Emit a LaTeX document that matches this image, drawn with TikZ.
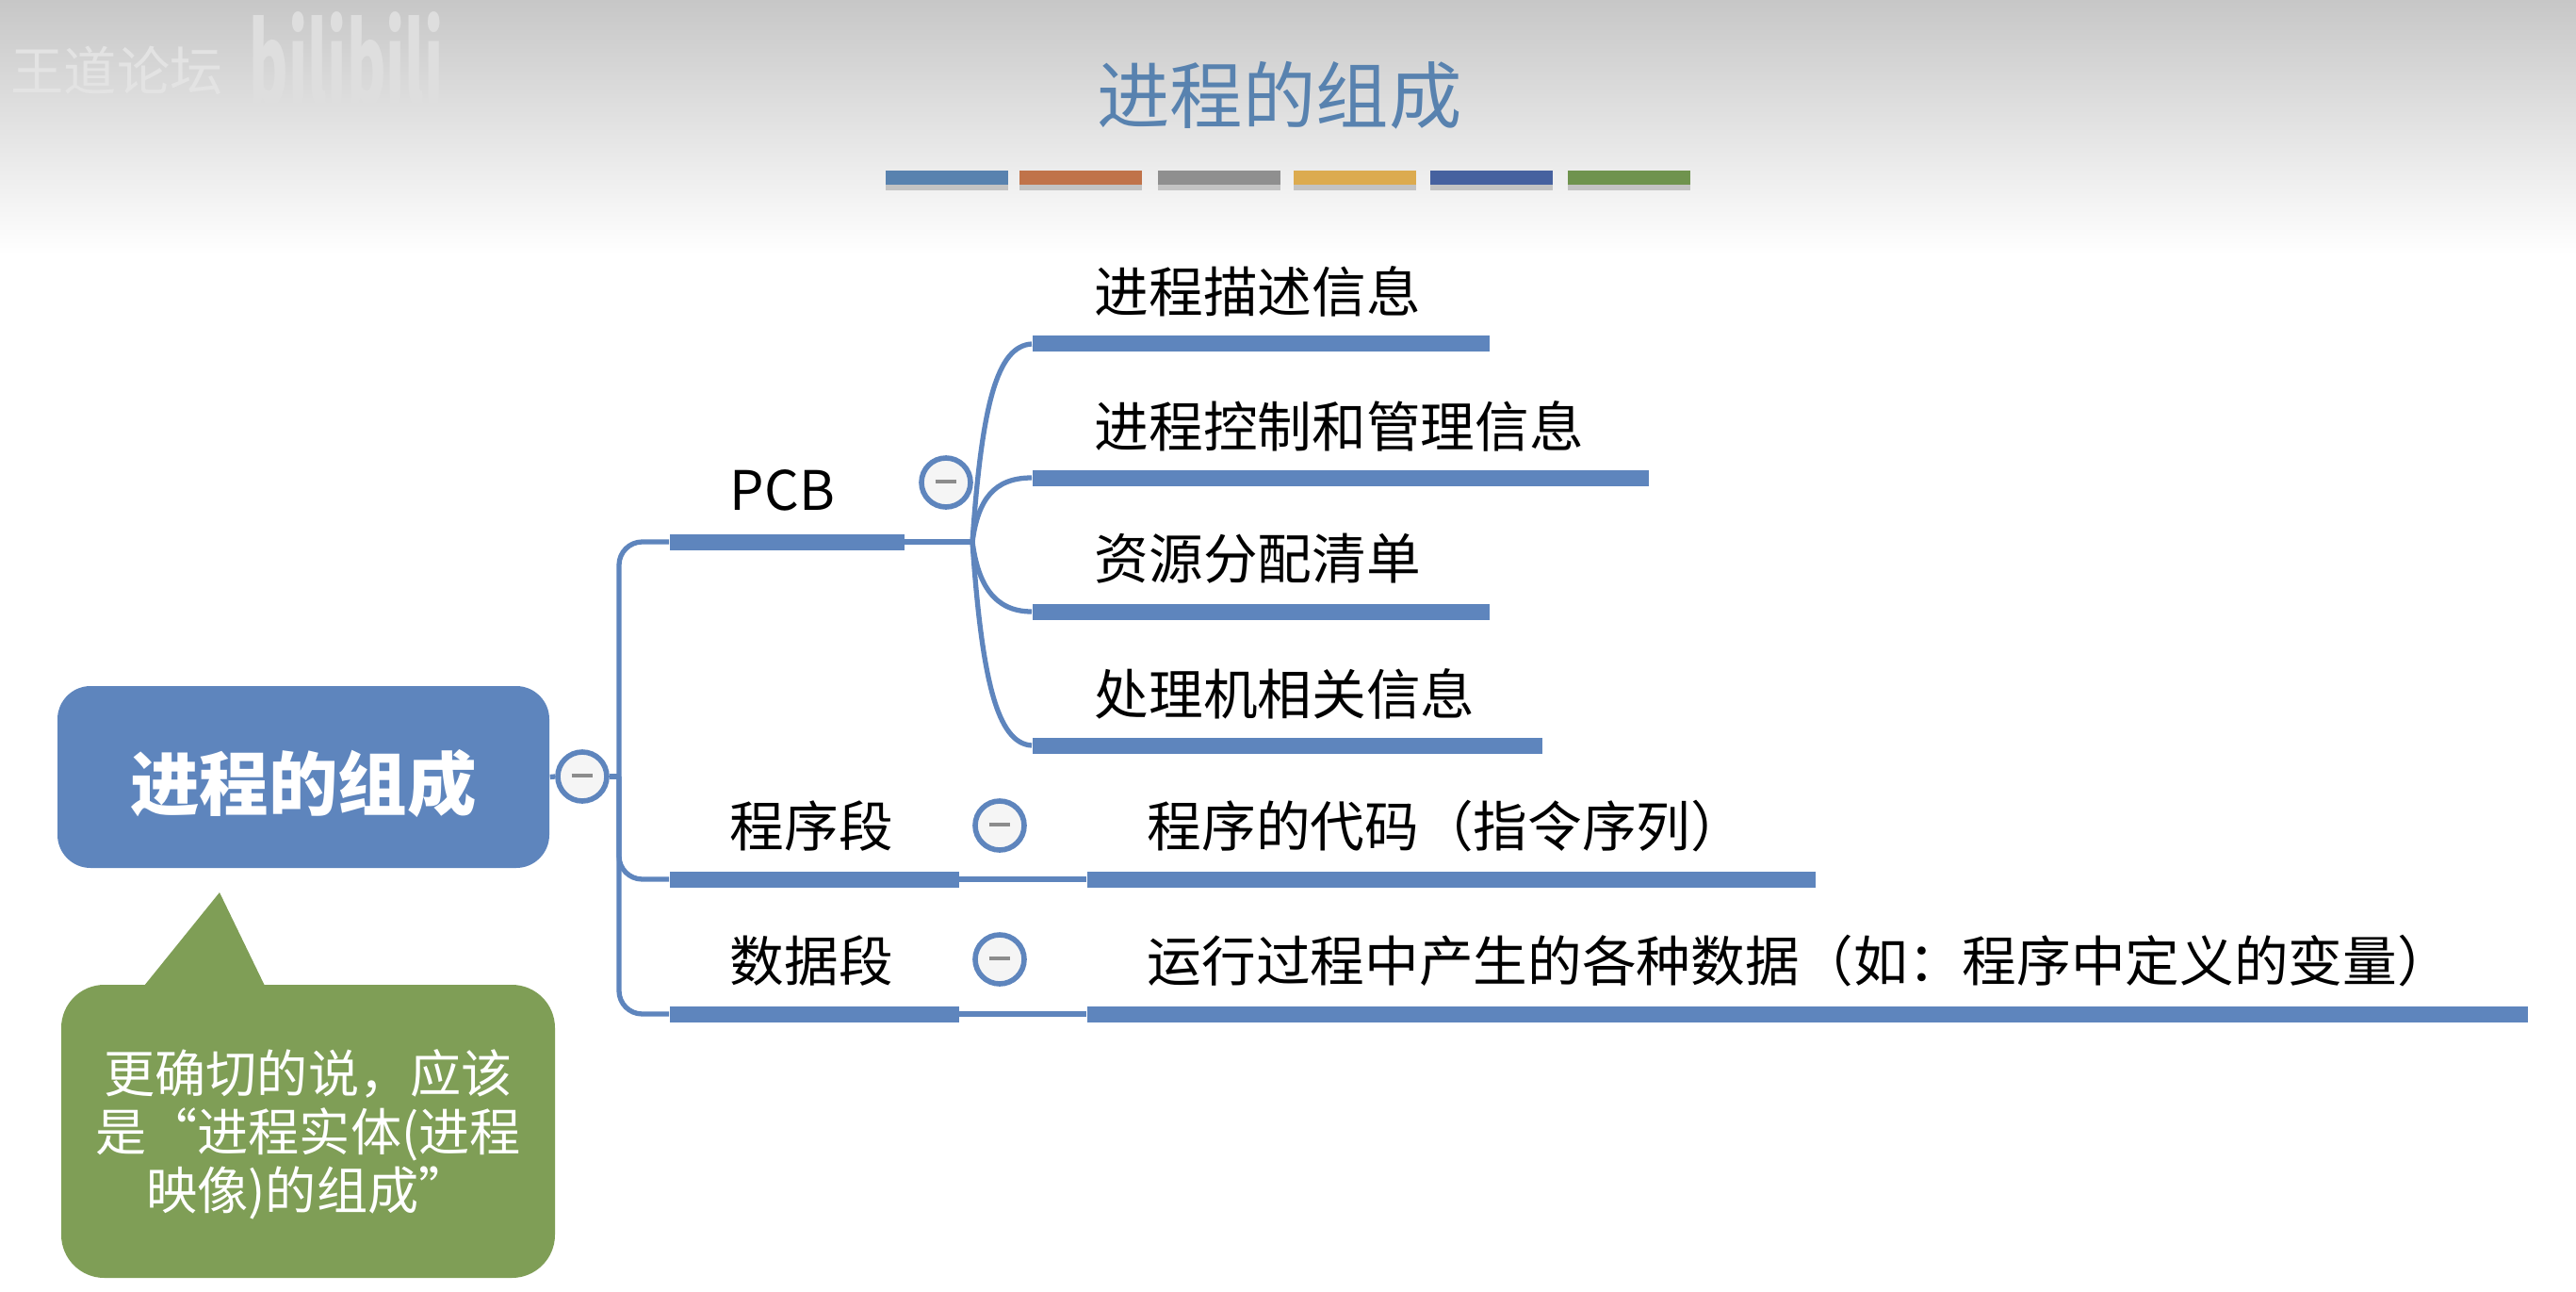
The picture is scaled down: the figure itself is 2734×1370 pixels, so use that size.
\documentclass[tikz,border=0pt]{standalone}
\usepackage{fontspec}
\setmainfont{Noto Sans CJK SC}
\usepackage{xcolor}
\usepackage{tikz}
\usetikzlibrary{calc,positioning,shadows}
\definecolor{mapb}{RGB}{94,133,189}
\definecolor{noteg}{RGB}{127,158,86}
\definecolor{titleb}{RGB}{88,130,175}
\definecolor{tabo}{RGB}{192,115,74}
\definecolor{tabg}{RGB}{143,143,143}
\definecolor{taby}{RGB}{220,171,79}
\definecolor{tabd}{RGB}{70,97,159}
\definecolor{tabl}{RGB}{111,147,78}
\tikzset{
  barnode/.style={fill=mapb,rectangle,anchor=west,inner sep=0pt,minimum height=17*0.01cm},
  tabnode/.style={rectangle,anchor=west,inner sep=0pt,minimum width=130*0.01cm,minimum height=15*0.01cm,drop shadow={shadow xshift=0pt,shadow yshift=-1.5pt,opacity=.4}},
  txtnode/.style={anchor=west,inner sep=0pt,font=\fontsize{16.4}{20}\selectfont,text=black},
  togglenode/.style={circle,draw=mapb,line width=1.6pt,fill=black!4,minimum size=52*0.01cm,inner sep=0pt},
  linkline/.style={draw=mapb,line width=1.5pt},
}
\newcommand{\minusrule}{\textcolor{black!45}{\rule[.6pt]{6.5pt}{1.2pt}}}
\begin{document}
\begin{tikzpicture}[x=0.01cm,y=-0.01cm]
  \useasboundingbox (0,0) rectangle (2734,1370);
  \fill[white] (0,0) rectangle (2734,1370);
  \shade[top color=black!22,bottom color=white] (0,0) rectangle (2734,270);
  \node[font=\fontsize{16}{20}\selectfont,text=black!11] (W0) at (124,75) {王道论坛};
  \node[font=\fontsize{18}{20}\selectfont\bfseries,text=black!13,transform shape,yscale=1.9] (W1) at (368,63) {bilibili};
  \node[font=\fontsize{22}{26}\selectfont,text=titleb] (T0) at (1358,101) {进程的组成};
  \node[tabnode,fill=titleb] (C1) at (939,189) {};
  \node[tabnode,fill=tabo] (C2) at (1081,189) {};
  \node[tabnode,fill=tabg] (C3) at (1228,189) {};
  \node[tabnode,fill=taby] (C4) at (1372,189) {};
  \node[tabnode,fill=tabd] (C5) at (1517,189) {};
  \node[tabnode,fill=tabl] (C6) at (1663,189) {};
  \node[fill=mapb,rounded corners=10pt,minimum width=522*0.01cm,minimum height=193*0.01cm,inner sep=0pt] (N0) at (322,824.5) {};
  \node[text=white,font=\fontsize{20.9}{24}\selectfont\bfseries,inner sep=0pt] (N0T) at (322,831) {进程的组成};
  \node[fill=noteg,rounded corners=13pt,minimum width=524*0.01cm,minimum height=311*0.01cm,inner sep=0pt] (N1) at (327,1200.5) {};
  \node[text=white,align=center,inner sep=0pt,font=\fontsize{15.4}{17.7}\selectfont] (N1T) at (327,1204) {更确切的说，应该\\是“进程实体(进程\\映像)的组成”};
  \coordinate (K0) at (233,947);
  \coordinate (K1) at (153,1046);
  \coordinate (K2) at (281,1046);
  \fill[noteg] (K0)--(K1)--(K2)--cycle;
  \node[barnode,minimum width=249*0.01cm] (A0) at (710,575) {};
  \node[barnode,minimum width=307*0.01cm] (A1) at (710,933) {};
  \node[barnode,minimum width=307*0.01cm] (A2) at (710,1076) {};
  \node[barnode,minimum width=485*0.01cm] (B0) at (1095,365) {};
  \node[barnode,minimum width=654*0.01cm] (B1) at (1095,507) {};
  \node[barnode,minimum width=485*0.01cm] (B2) at (1095,649) {};
  \node[barnode,minimum width=541*0.01cm] (B3) at (1095,791) {};
  \node[barnode,minimum width=773*0.01cm] (B4) at (1153,933) {};
  \node[barnode,minimum width=1529*0.01cm] (B5) at (1153,1076) {};
  \coordinate (S0) at (657,824);
  \coordinate (S1) at (1032,575);
  \draw[linkline,rounded corners=7pt] (S0) |- (A0.west);
  \draw[linkline,rounded corners=7pt] (S0) |- (A1.west);
  \draw[linkline,rounded corners=7pt] (S0) |- (A2.west);
  \draw[linkline] (A0.east)--(S1);
  \draw[linkline] (S1) .. controls (1042,430) and (1058,367) .. (B0.west);
  \draw[linkline] (S1) .. controls (1038,530) and (1055,507) .. (B1.west);
  \draw[linkline] (S1) .. controls (1038,620) and (1055,649) .. (B2.west);
  \draw[linkline] (S1) .. controls (1042,720) and (1058,789) .. (B3.west);
  \draw[linkline] (A1.east)--(B4.west);
  \draw[linkline] (A2.east)--(B5.west);
  \node[togglenode] (G0) at (618,824) {\minusrule};
  \node[togglenode] (G1) at (1004,512) {\minusrule};
  \node[togglenode] (G2) at (1061,876) {\minusrule};
  \node[togglenode] (G3) at (1061,1018) {\minusrule};
  \draw[linkline] (N0.east)--(G0.west);
  \draw[linkline] (G0.east)--(S0);
  \node[txtnode] (L0) at (774,520) {PCB};
  \node[txtnode] (L1) at (774,877) {程序段};
  \node[txtnode] (L2) at (774,1020) {数据段};
  \node[txtnode] (M0) at (1161,309) {进程描述信息};
  \node[txtnode] (M1) at (1161,452) {进程控制和管理信息};
  \node[txtnode] (M2) at (1161,593) {资源分配清单};
  \node[txtnode] (M3) at (1161,736) {处理机相关信息};
  \node[txtnode] (M4) at (1217,877) {程序的代码（指令序列）};
  \node[txtnode] (M5) at (1217,1020) {运行过程中产生的各种数据（如：程序中定义的变量）};
\end{tikzpicture}
\end{document}
